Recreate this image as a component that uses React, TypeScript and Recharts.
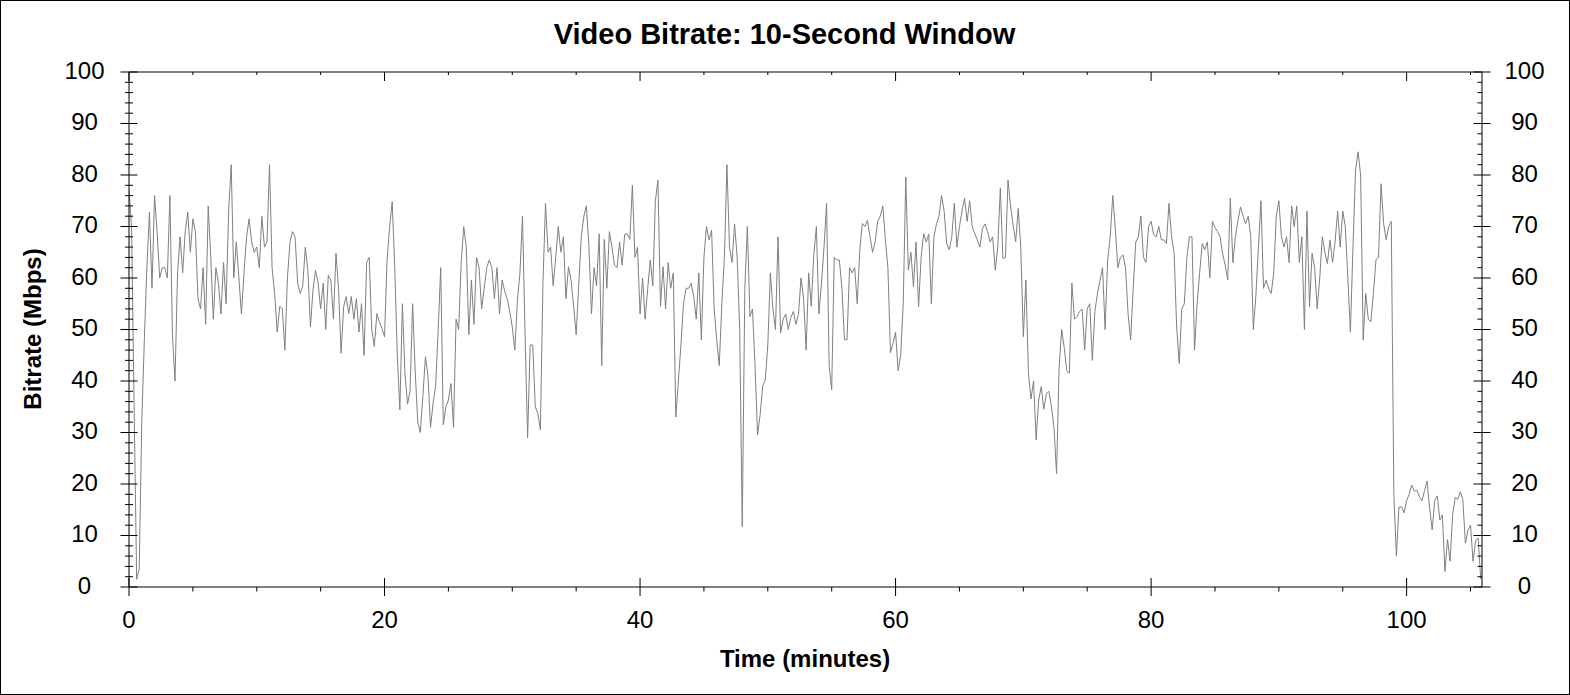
import React from "react";
import { LineChart, Line, XAxis, YAxis } from "recharts";

// ---- data: video bitrate (Mbps), sampled every 0.2 minutes ----
const SAMPLE_STEP_MIN = 0.2;

const ratesMin0to20 = [
  77, 70, 35, 1.5, 3.5, 32, 48, 62, 72.8, 58,
  76, 69, 60, 62, 62, 60, 76, 49, 40, 61,
  68, 61, 69, 72.8, 65, 71.5, 69, 56, 54, 62,
  51, 74, 64, 52, 62, 59, 53, 63, 55, 73,
  82, 60, 67, 60, 53, 61, 68, 71.5, 67, 65,
  66, 62, 72, 66, 67, 82, 62, 57, 49.5, 54.5,
  54, 46, 60, 67, 69, 68, 59,
  57, 58.5, 66, 61.5, 50.5, 57.7, 61.5, 59, 54, 59,
  50, 60.5, 59.6, 52, 64.8, 58, 45.4, 54.4, 56.4, 53.1,
  56.4, 52, 56, 49.5, 55, 45, 63, 64, 50, 46.7,
  53.1, 51.5, 50.2,
];

const ratesMin20to40 = [
  48.6, 63.5, 70, 74.8, 62, 45, 34.4,
  55, 41.5, 35.5, 38, 55, 42, 32, 30, 37, 44.7,
  41, 31, 35.7, 39, 50, 62, 31.5, 35, 36.3, 39.5,
  31, 52, 50, 63, 70, 66, 49,
  59.6, 51, 64, 62, 54, 58, 62, 63.5, 62, 56,
  62, 53, 59.6, 57.5, 56, 53.5, 50.5, 46, 55.5, 61,
  72, 49, 29, 47, 47, 35, 33.7, 30.5, 59, 74.5,
  65, 66, 58.5, 64, 70, 65, 68, 56, 62.2, 59.6,
  54.6, 49, 58.5, 68, 72, 74, 66, 53, 62, 58.5,
  68.6, 43, 67.5, 58, 69, 66, 62.5, 62, 67, 62.5,
  68.5, 68.6, 67.5, 78, 64, 66,
];

const ratesMin40to60 = [
  53, 60, 52, 58, 63.5, 58.5, 75, 79, 54.5, 62.2,
  54, 63, 58, 61, 33, 40, 47, 55, 58, 58,
  59, 56.4, 52, 61, 48, 64, 70, 67.4, 69.3, 54,
  48, 43, 55, 64, 82, 66, 63, 70.5, 64, 50,
  11.7, 58, 70, 52.5, 54, 43, 29.5, 33.5, 39, 40.2,
  47, 61, 54, 50, 68, 49.3, 52, 53, 50, 52.3,
  53.5, 51, 53, 60, 56, 46,
  61, 54.5, 64.5, 70, 53, 59, 66, 74.5, 43, 38.3,
  64, 63.5, 63.5, 58, 48, 48, 62, 61, 62, 55,
  65.4, 70.6, 70, 71.2, 68, 65, 67, 71, 72, 74,
  67.5, 62, 45.5, 47.3,
];

const ratesMin60to80 = [
  49.5, 42, 45, 55, 79.6, 61.5,
  65, 58.3, 67, 54.4, 64, 68.6, 67, 68.5, 55, 68,
  70.5, 72, 76, 73, 66.7, 65.5, 68, 74.5, 66, 70,
  73, 75.5, 71, 75, 70, 68.6, 67.4,
  66, 69.6, 70.5, 69, 67, 68, 61.5, 66, 77.5, 63.8,
  64, 79, 74, 70.3, 67, 73.5, 66, 48.6, 59.6, 41.5,
  36.5, 40, 28.6, 36.3, 38.9, 34.5, 37.5, 38, 35, 31,
  22, 42.5, 50, 46.5, 42, 41.5, 59, 52, 52.5, 53.5,
  54, 46, 54, 55, 44, 53.5, 57, 59.5, 62, 50,
  63.5, 68, 76, 69.5, 62, 64, 64.5, 62, 53, 48,
  58, 67, 68, 72, 64, 63,
  70,
];

const ratesMin80to100 = [
  71, 68.4, 68, 70, 67.4, 67.4, 66.7, 74.5, 68,
  65, 50.5, 43.4, 54, 55, 64, 68, 68, 46, 55,
  61, 66.7, 65.5, 67, 60, 71, 69.8, 69, 68, 64.7,
  62.5, 59.6, 75.5, 63, 68, 71.2, 73.8, 72, 70.5, 72,
  68, 50, 56.5, 66, 75, 58, 59.6, 58, 57, 61,
  72, 75, 68, 66, 68, 63, 74, 70, 74, 63,
  68, 50, 73, 54.4, 64.8, 62, 54,
  60, 68, 65, 62.8, 67.4, 63, 67, 73, 66, 73,
  70, 60, 49.5, 66, 80.9, 84.5, 80, 48, 57, 52,
  51.5, 57, 63.5, 64, 78.3, 70.6, 67.4, 70, 71, 18,
  6, 15.5, 15.6, 14.4,
];

const ratesMin100toEnd = [
  16.8, 18, 19.8, 18.6, 18.8, 17.6,
  16.7, 18.7, 20.6, 15.3, 11.1, 16.8, 17.7, 13, 14, 3,
  9.2, 5, 14, 17.4, 17, 18.5, 17, 8.5, 11, 12,
  5, 9, 9.5, 1.5,
];

const allRates = [
  ...ratesMin0to20,
  ...ratesMin20to40,
  ...ratesMin40to60,
  ...ratesMin60to80,
  ...ratesMin80to100,
  ...ratesMin100toEnd,
];

const chartData = allRates.map((rate, i) => ({
  minute: Math.round(i * SAMPLE_STEP_MIN * 10) / 10,
  rate,
}));

// ---- axes ----
const X_MAX_MIN = 105.9;
const xLabeledTicks = [0, 20, 40, 60, 80, 100];
const xAllTicks = Array.from({ length: 22 }, (_, i) => i * 5);
const yLabeledTicks = [0, 10, 20, 30, 40, 50, 60, 70, 80, 90, 100];
const yAllTicks = Array.from({ length: 51 }, (_, i) => i * 2);

const TITLE = "Video Bitrate: 10-Second Window";
const X_TITLE = "Time (minutes)";
const Y_TITLE = "Bitrate (Mbps)";

const FONT = "'Liberation Sans', Arial, Helvetica, sans-serif";
const INK = "#000";

const BottomTick = (props: any) => {
  const { x, y, payload } = props;
  const v = payload.value;
  const major = xLabeledTicks.includes(v);
  return (
    <g>
      {major ? (
        <line x1={x} x2={x} y1={y - 9} y2={y + 9} stroke={INK} strokeWidth={1} />
      ) : (
        <line x1={x} x2={x} y1={y} y2={y + 4.5} stroke={INK} strokeWidth={1} />
      )}
      {major && (
        <text x={x} y={y + 40.5} textAnchor="middle" fontSize={24} fontFamily={FONT} fill={INK}>
          {v}
        </text>
      )}
    </g>
  );
};

const TopTick = (props: any) => {
  const { x, y, payload } = props;
  const major = xLabeledTicks.includes(payload.value);
  return <line x1={x} x2={x} y1={y} y2={y + (major ? 9 : 3)} stroke={INK} strokeWidth={1} />;
};

const LeftTick = (props: any) => {
  const { x, y, payload } = props;
  const v = payload.value;
  const major = yLabeledTicks.includes(v);
  return (
    <g>
      {major ? (
        <line x1={x - 8.5} x2={x + 8.5} y1={y} y2={y} stroke={INK} strokeWidth={1} />
      ) : (
        <line x1={x - 4} x2={x + 4} y1={y} y2={y} stroke={INK} strokeWidth={1} />
      )}
      {major && (
        <text x={x - 44.5} y={y + 6.6} textAnchor="middle" fontSize={24} fontFamily={FONT} fill={INK}>
          {v}
        </text>
      )}
    </g>
  );
};

const RightTick = (props: any) => {
  const { x, y, payload } = props;
  const v = payload.value;
  const major = yLabeledTicks.includes(v);
  return (
    <g>
      {major ? (
        <line x1={x - 8.5} x2={x + 8.5} y1={y} y2={y} stroke={INK} strokeWidth={1} />
      ) : (
        <line x1={x - 4.5} x2={x} y1={y} y2={y} stroke={INK} strokeWidth={1} />
      )}
      {major && (
        <text x={x + 42.5} y={y + 6.6} textAnchor="middle" fontSize={24} fontFamily={FONT} fill={INK}>
          {v}
        </text>
      )}
    </g>
  );
};

const W = 1570;
const H = 695;

export default function App() {
  return (
    <div
      style={{
        position: "absolute",
        left: 0,
        top: 0,
        width: W,
        height: H,
        background: "#fff",
        boxSizing: "border-box",
        border: "1px solid #000",
        overflow: "hidden",
      }}
    >
      <div style={{ position: "absolute", left: -1, top: -1 }}>
        <LineChart
          width={W}
          height={H}
          data={chartData}
          margin={{ top: 62, right: 28, bottom: 78, left: 69 }}
        >
          <XAxis
            dataKey="minute"
            type="number"
            domain={[0, X_MAX_MIN]}
            ticks={xAllTicks}
            interval={0}
            height={30}
            tickSize={0}
            tickMargin={0}
            tickLine={false}
            axisLine={{ stroke: INK, strokeWidth: 1 }}
            tick={<BottomTick />}
            allowDataOverflow
          />
          <XAxis
            xAxisId="top"
            orientation="top"
            dataKey="minute"
            type="number"
            domain={[0, X_MAX_MIN]}
            ticks={xAllTicks}
            interval={0}
            height={10}
            tickSize={0}
            tickMargin={0}
            tickLine={false}
            axisLine={{ stroke: INK, strokeWidth: 1 }}
            tick={<TopTick />}
            allowDataOverflow
          />
          <YAxis
            type="number"
            domain={[0, 100]}
            ticks={yAllTicks}
            interval={0}
            width={60}
            tickSize={0}
            tickMargin={0}
            tickLine={false}
            axisLine={{ stroke: INK, strokeWidth: 1 }}
            tick={<LeftTick />}
            allowDataOverflow
          />
          <YAxis
            yAxisId="right"
            orientation="right"
            type="number"
            domain={[0, 100]}
            ticks={yAllTicks}
            interval={0}
            width={60}
            tickSize={0}
            tickMargin={0}
            tickLine={false}
            axisLine={{ stroke: INK, strokeWidth: 1 }}
            tick={<RightTick />}
            allowDataOverflow
          />
          <Line
            type="linear"
            dataKey="rate"
            stroke="#808080"
            strokeWidth={1}
            dot={false}
            activeDot={false}
            isAnimationActive={false}
          />
        </LineChart>
      </div>
      <svg
        width={W}
        height={H}
        style={{ position: "absolute", left: -1, top: -1, pointerEvents: "none" }}
      >
        <text x={784.5} y={43.5} textAnchor="middle" fontSize={29} fontWeight="bold" fontFamily={FONT} fill={INK}>
          {TITLE}
        </text>
        <text x={805} y={667} textAnchor="middle" fontSize={24} fontWeight="bold" fontFamily={FONT} fill={INK}>
          {X_TITLE}
        </text>
        <text
          x={0}
          y={0}
          transform="translate(41,329) rotate(-90)"
          textAnchor="middle"
          fontSize={24}
          fontWeight="bold"
          fontFamily={FONT}
          fill={INK}
        >
          {Y_TITLE}
        </text>
      </svg>
    </div>
  );
}
